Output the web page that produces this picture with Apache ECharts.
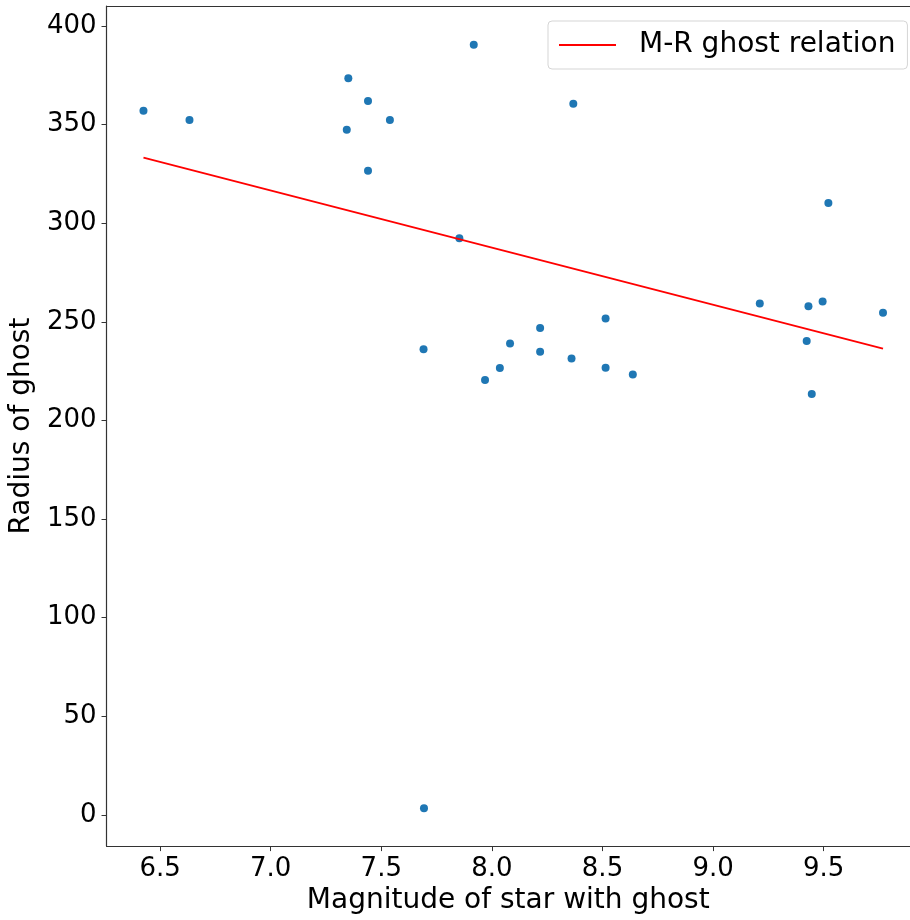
<!DOCTYPE html>
<html>
<head>
<meta charset="utf-8">
<script src="https://cdn.jsdelivr.net/npm/echarts@6/dist/echarts.min.js"></script>
<style>html,body{margin:0;padding:0;background:#fff;}#chart{width:910px;height:920px;}</style>
</head>
<body>
<div id="chart"></div>
<script>
// Scatter data: magnitude of star, radius of ghost
const magnitudes = [6.425, 6.633, 7.351, 7.440, 7.539, 7.344, 7.440, 7.918, 7.853, 7.693,
  7.691, 7.969, 8.036, 8.082, 8.218, 8.218, 8.360, 8.368, 8.514, 8.514,
  8.637, 9.211, 9.431, 9.495, 9.521, 9.768, 9.423, 9.446];
const radii = [357.1, 352.4, 373.6, 362.0, 352.4, 347.5, 326.7, 390.6, 292.4, 3.4,
  236.2, 220.6, 226.6, 239.0, 246.9, 234.9, 231.5, 360.6, 251.8, 226.8,
  223.3, 259.4, 258.0, 260.4, 310.3, 254.6, 240.3, 213.5];
// Fitted M-R relation endpoints
const fitX = [6.425, 9.768];
const fitY = [333.3, 236.4];
// Tick values
const xTicks = [6.5, 7.0, 7.5, 8.0, 8.5, 9.0, 9.5];
const yTicks = [0, 50, 100, 150, 200, 250, 300, 350, 400];

const FONT = 'DejaVu Sans';
const AXIS_COLOR = '#333';
const chart = echarts.init(document.getElementById('chart'), null, {renderer: 'canvas'});
chart.setOption({
  animation: false,
  backgroundColor: '#fff',
  grid: {left: 105, top: 6, right: 0, height: 842.5, show: false},
  legend: {
    data: [{name: 'M-R ghost relation', icon: 'rect'}],
    left: 548, top: 21,
    itemWidth: 57, itemHeight: 2,
    padding: [10, 12, 10, 11],
    borderColor: '#d5d5d5', borderWidth: 1, borderRadius: 4,
    backgroundColor: 'rgba(255,255,255,0.8)',
    textStyle: {fontFamily: FONT, fontSize: 28, color: '#000', padding: [0, 0, 0, 18]}
  },
  xAxis: [{
    type: 'value', min: 6.258, max: 9.890,
    name: 'Magnitude of star with ghost', nameLocation: 'middle', nameGap: 36,
    nameTextStyle: {fontFamily: FONT, fontSize: 28, color: '#000'},
    axisLine: {show: true, onZero: false, lineStyle: {color: AXIS_COLOR, width: 1.2}},
    axisTick: {show: true, length: 5, lineStyle: {color: AXIS_COLOR}, customValues: xTicks},
    axisLabel: {fontFamily: FONT, fontSize: 26, color: '#000', margin: 10,
      customValues: xTicks, formatter: v => v.toFixed(1)},
    splitLine: {show: false}
  }, {
    type: 'value', position: 'top', min: 6.258, max: 9.890,
    axisLine: {show: true, onZero: false, lineStyle: {color: AXIS_COLOR, width: 1.2}},
    axisTick: {show: false}, axisLabel: {show: false}, splitLine: {show: false}
  }],
  yAxis: {
    type: 'value', min: -15.8, max: 410.2,
    name: 'Radius of ghost', nameLocation: 'middle', nameGap: 59,
    nameTextStyle: {fontFamily: FONT, fontSize: 28, color: '#000'},
    axisLine: {show: true, onZero: false, lineStyle: {color: AXIS_COLOR, width: 1.2}},
    axisTick: {show: true, length: 5, lineStyle: {color: AXIS_COLOR}, customValues: yTicks},
    axisLabel: {fontFamily: FONT, fontSize: 26, color: '#000', margin: 10,
      customValues: yTicks, formatter: v => String(v)},
    splitLine: {show: false}
  },
  series: [
    {
      type: 'scatter', name: 'data',
      data: magnitudes.map((m, i) => [m, radii[i]]),
      symbolSize: 8,
      itemStyle: {color: '#1f77b4', opacity: 1}
    },
    {
      type: 'line', name: 'M-R ghost relation',
      data: fitX.map((x, i) => [x, fitY[i]]),
      showSymbol: false, symbol: 'none',
      lineStyle: {color: '#ff0000', width: 1.8},
      itemStyle: {color: '#ff0000'}
    }
  ]
});
</script>
</body>
</html>
